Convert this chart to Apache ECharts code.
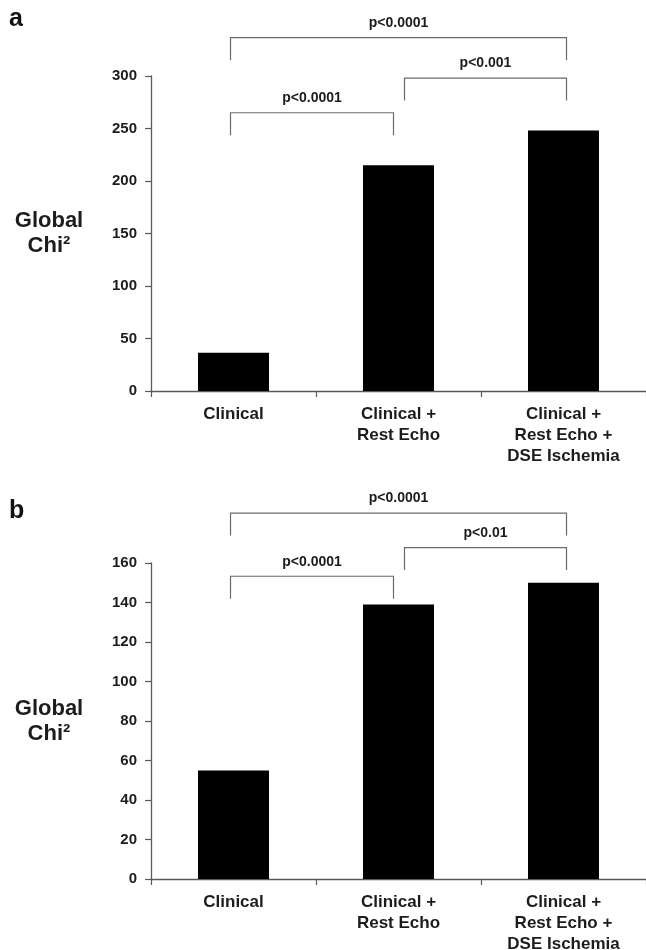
<!DOCTYPE html>
<html><head><meta charset="utf-8">
<script src="https://cdn.jsdelivr.net/npm/echarts@6/dist/echarts.min.js"></script>
<style>html,body{margin:0;padding:0;background:#fff}#c{width:646px;height:950px}</style>
</head><body><div id="c"></div>
<script>
const categories = ['Clinical', 'Clinical +\nRest Echo', 'Clinical +\nRest Echo +\nDSE Ischemia'];
const chiA = [36.5, 215, 248];
const chiB = [55, 139, 150];
const yMaxA = 300, yStepA = 50;
const yMaxB = 160, yStepB = 20;
const bracketFrom = [0, 1, 0];
const bracketTo = [2, 2, 1];
const bracketLevelA = [336.5, 298, 265];
const bracketLevelB = [185.3, 167.8, 153.3];
const bracketLabelsA = ['p<0.0001', 'p<0.001', 'p<0.0001'];
const bracketLabelsB = ['p<0.0001', 'p<0.01', 'p<0.0001'];
const panelLabels = ['a', 'b'];
const yName = 'Global\nChi\u00B2';

const FONT = '"Liberation Sans", Arial, Helvetica, sans-serif';
const TXT = '#1c1c1c';
const AX = '#5a5a5a';

function bracketItem(labels) {
  return function (params, api) {
    const from = api.value(0), to = api.value(1), lvl = api.value(2);
    const a = api.coord([from, lvl]), b = api.coord([to, lvl]);
    const x1 = a[0] + (from === 1 ? 6 : -3);
    const x2 = b[0] + (to === 1 ? -5 : 3);
    const y = a[1];
    return {
      type: 'group',
      children: [
        { type: 'polyline', shape: { points: [[x1, y + 22.5], [x1, y], [x2, y], [x2, y + 22.5]] },
          style: { stroke: '#6a6a6a', lineWidth: 1.2, fill: 'none' } },
        { type: 'text', style: { text: labels[params.dataIndex], x: (x1 + x2) / 2, y: y - 14.5,
          align: 'center', verticalAlign: 'middle', textAlign: 'center', textVerticalAlign: 'middle',
          fill: TXT, fontSize: 14, fontWeight: 'bold', fontFamily: FONT } }
      ]
    };
  };
}

function xAx(gi) {
  return {
    type: 'category', gridIndex: gi, data: categories,
    axisLine: { lineStyle: { color: AX, width: 1.3 } },
    axisTick: { show: true, length: 6, lineStyle: { color: AX, width: 1.2 } },
    axisLabel: { margin: 13, fontSize: 17, fontWeight: 'bold', fontFamily: FONT, color: TXT, lineHeight: 21, interval: 0 }
  };
}
function yAx(gi, max, step) {
  return {
    type: 'value', gridIndex: gi, min: 0, max: max, interval: step,
    name: yName, nameLocation: 'middle', nameRotate: 0, nameGap: 102,
    nameTextStyle: { fontSize: 22, fontWeight: 'bold', fontFamily: FONT, color: TXT, lineHeight: 25, align: 'center', verticalAlign: 'middle' },
    axisLine: { show: true, lineStyle: { color: AX, width: 1.3 } },
    axisTick: { show: true, length: 6, lineStyle: { color: AX, width: 1.2 } },
    splitLine: { show: false },
    axisLabel: { margin: 14, fontSize: 15, fontWeight: 'bold', fontFamily: FONT, color: TXT }
  };
}

const chart = echarts.init(document.getElementById('c'));
chart.setOption({
  backgroundColor: '#fff',
  animation: false,
  graphic: [
    { type: 'text', style: { text: panelLabels[0], x: 9, y: 19, verticalAlign: 'middle', textVerticalAlign: 'middle', fontSize: 25, fontWeight: 'bold', fontFamily: FONT, fill: '#111' } },
    { type: 'text', style: { text: panelLabels[1], x: 9, y: 511, verticalAlign: 'middle', textVerticalAlign: 'middle', fontSize: 25, fontWeight: 'bold', fontFamily: FONT, fill: '#111' } }
  ],
  grid: [
    { left: 151, right: 0, top: 76, height: 315, outerBoundsMode: 'none' },
    { left: 151, right: 0, top: 563, height: 316, outerBoundsMode: 'none' }
  ],
  xAxis: [xAx(0), xAx(1)],
  yAxis: [yAx(0, yMaxA, yStepA), yAx(1, yMaxB, yStepB)],
  series: [
    { type: 'bar', xAxisIndex: 0, yAxisIndex: 0, data: chiA, barWidth: 71, itemStyle: { color: '#000' } },
    { type: 'bar', xAxisIndex: 1, yAxisIndex: 1, data: chiB, barWidth: 71, itemStyle: { color: '#000' } },
    { type: 'custom', xAxisIndex: 0, yAxisIndex: 0, clip: false, silent: true, z: 5,
      encode: { x: 0, y: 2 },
      data: bracketFrom.map((f, i) => [f, bracketTo[i], bracketLevelA[i]]),
      renderItem: bracketItem(bracketLabelsA) },
    { type: 'custom', xAxisIndex: 1, yAxisIndex: 1, clip: false, silent: true, z: 5,
      encode: { x: 0, y: 2 },
      data: bracketFrom.map((f, i) => [f, bracketTo[i], bracketLevelB[i]]),
      renderItem: bracketItem(bracketLabelsB) }
  ]
});
</script></body></html>
